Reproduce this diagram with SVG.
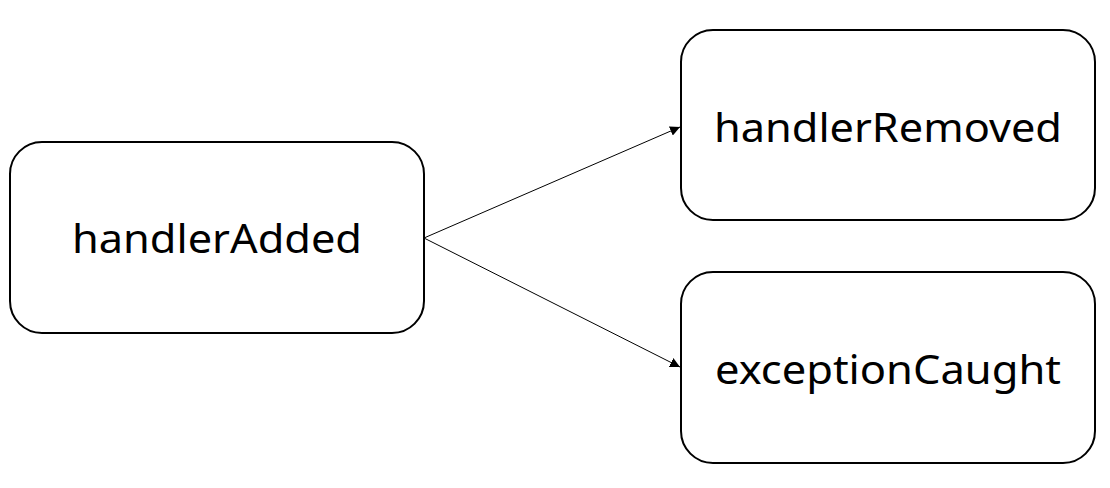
<svg xmlns="http://www.w3.org/2000/svg" width="1110" height="488" viewBox="0 0 1110 488">
<style>
.box{fill:#fff;stroke:#000;stroke-width:2}
.lbl{font-family:"Noto Sans","DejaVu Sans",sans-serif;font-size:40px;fill:#000;text-anchor:middle}
.con{stroke:#000;stroke-width:1;fill:none}
</style>
<defs>
<marker id="arr" viewBox="0 0 10 10" refX="10" refY="5" markerWidth="10" markerHeight="10" markerUnits="userSpaceOnUse" orient="auto">
<path d="M0,0 L10,5 L0,10 Z" fill="#000"/>
</marker>
</defs>
<rect width="1110" height="488" fill="#fff"/>
<g id="connectors">
<line class="con" x1="424" y1="238" x2="680" y2="127" marker-end="url(#arr)"/>
<line class="con" x1="424" y1="238" x2="680" y2="367" marker-end="url(#arr)"/>
</g>
<g id="handlerAdded">
<rect class="box" x="10" y="142" width="414" height="191" rx="32"/>
<text class="lbl" x="217" y="253" textLength="290" lengthAdjust="spacingAndGlyphs">handlerAdded</text>
</g>
<g id="handlerRemoved">
<rect class="box" x="681" y="30" width="414" height="190" rx="32"/>
<text class="lbl" x="888" y="142" textLength="348" lengthAdjust="spacingAndGlyphs">handlerRemoved</text>
</g>
<g id="exceptionCaught">
<rect class="box" x="681" y="272" width="414" height="191" rx="32"/>
<text class="lbl" x="888" y="384" textLength="346" lengthAdjust="spacingAndGlyphs">exceptionCaught</text>
</g>
</svg>
